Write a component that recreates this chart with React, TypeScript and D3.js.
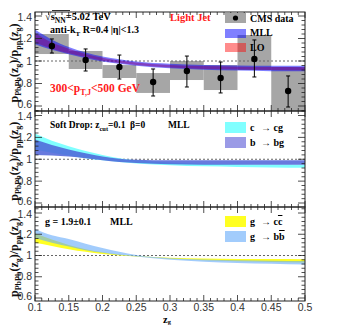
import React from 'react';
import * as d3 from 'd3';

// CMS data (light jets, 300 < pT < 500 GeV)
const binEdges = [0.1, 0.15, 0.2, 0.25, 0.3, 0.35, 0.4, 0.45, 0.5];
const dataZ = [0.125, 0.175, 0.225, 0.275, 0.325, 0.375, 0.425, 0.475];
const dataVal = [1.133, 1.009, 0.947, 0.813, 0.911, 0.849, 1.018, 0.733];
const statHi = [1.196, 1.107, 1.053, 0.929, 1.044, 0.991, 1.187, 0.867];
const statLo = [1.071, 0.911, 0.84, 0.689, 0.769, 0.716, 0.858, 0.591];
const sysHi = [1.24, 1.089, 0.964, 0.893, 1.0, 0.964, 1.231, 0.947];
const sysLo = [1.062, 0.929, 0.849, 0.716, 0.831, 0.742, 0.92, 0.5];

// theory band grid
const zBand = [0.1, 0.125, 0.15, 0.175, 0.2, 0.225, 0.25, 0.3, 0.35, 0.4, 0.45, 0.5];
const mllHi = [1.28, 1.19, 1.125, 1.075, 1.04, 1.015, 0.995, 0.975, 0.965, 0.96, 0.958, 0.957];
const mllLo = [1.15, 1.1, 1.06, 1.025, 0.995, 0.975, 0.958, 0.935, 0.922, 0.915, 0.91, 0.908];
const loHi = [1.25, 1.165, 1.11, 1.062, 1.03, 1.005, 0.987, 0.965, 0.955, 0.95, 0.947, 0.945];
const loLo = [1.165, 1.11, 1.07, 1.035, 1.003, 0.983, 0.965, 0.942, 0.93, 0.925, 0.92, 0.918];

const ccgHi = [1.235, 1.17, 1.12, 1.075, 1.04, 1.01, 0.99, 0.97, 0.96, 0.955, 0.952, 0.95];
const ccgLo = [1.09, 1.06, 1.035, 1.01, 0.99, 0.975, 0.962, 0.945, 0.935, 0.93, 0.925, 0.922];
const bbgHi = [1.18, 1.13, 1.09, 1.055, 1.025, 1.005, 0.995, 0.99, 0.99, 0.99, 0.99, 0.99];
const bbgLo = [1.04, 1.035, 1.025, 1.01, 0.99, 0.975, 0.965, 0.955, 0.95, 0.95, 0.95, 0.95];

const gccHi = [1.21, 1.15, 1.1, 1.06, 1.03, 1.01, 0.995, 0.98, 0.972, 0.968, 0.966, 0.965];
const gccLo = [1.12, 1.09, 1.06, 1.035, 1.015, 1.0, 0.99, 0.97, 0.955, 0.945, 0.94, 0.935];
const gbbHi = [1.25, 1.19, 1.155, 1.11, 1.07, 1.035, 1.005, 0.975, 0.962, 0.955, 0.95, 0.948];
const gbbLo = [1.165, 1.12, 1.085, 1.05, 1.025, 1.005, 0.99, 0.96, 0.942, 0.93, 0.922, 0.915];

const xTickLabels = ['0.1', '0.15', '0.2', '0.25', '0.3', '0.35', '0.4', '0.45', '0.5'];
const yTickLabels = ['0.6', '0.8', '1', '1.2', '1.4'];

const SERIF = '"Liberation Serif", "Times New Roman", serif';
const SANS = '"Liberation Sans", Arial, sans-serif';

const x = d3.scaleLinear().domain([0.1, 0.5]).range([35, 305]);

const panels = [
  { top: 12, bottom: 111, y: d3.scaleLinear().domain([0.6, 1.4]).range([106, 16]) },
  { top: 111, bottom: 207, y: d3.scaleLinear().domain([0.6, 1.4]).range([203, 115.5]) },
  { top: 207, bottom: 301, y: d3.scaleLinear().domain([0.6, 1.4]).range([298, 213]) },
];

function band(y: d3.ScaleLinear<number, number>, hi: number[], lo: number[]) {
  const a = d3.area<number>()
    .x((d, i) => x(zBand[i]))
    .y0((d, i) => y(lo[i]))
    .y1((d) => y(d))
    .curve(d3.curveMonotoneX);
  return a(hi) || '';
}

function Frame({ p, showLabels }: any) {
  const { top, bottom, y } = p;
  const xMinor = d3.range(0.1, 0.5001, 0.01);
  const xMajor = d3.range(0.1, 0.5001, 0.05);
  const [lo, hi] = [y.invert(bottom), y.invert(top)];
  const yMinor = d3.range(0.4, 1.6, 0.04).filter((v) => v >= lo && v <= hi);
  const yMajor = [0.6, 0.8, 1.0, 1.2, 1.4];
  return (
    <g>
      <rect x={35} y={top} width={270} height={bottom - top} fill="none" stroke="#222" strokeWidth={1} />
      {xMinor.map((v, i) => {
        const major = xMajor.some((m) => Math.abs(m - v) < 1e-6);
        const len = major ? 6 : 3;
        return (
          <g key={'xt' + i} stroke="#222" strokeWidth={0.8}>
            <line x1={x(v)} x2={x(v)} y1={bottom} y2={bottom - len} />
            <line x1={x(v)} x2={x(v)} y1={top} y2={top + len} />
          </g>
        );
      })}
      {yMinor.map((v, i) => {
        const major = yMajor.some((m) => Math.abs(m - v) < 1e-6);
        const len = major ? 7 : 3.5;
        return (
          <g key={'yt' + i} stroke="#222" strokeWidth={0.8}>
            <line x1={35} x2={35 + len} y1={y(v)} y2={y(v)} />
            <line x1={305} x2={305 - len} y1={y(v)} y2={y(v)} />
          </g>
        );
      })}
      {yMajor.map((v, i) => {
        // nudge the edge labels a little apart where panels meet
        const off = i === 0 ? 2.4 : i === yMajor.length - 1 ? 4.8 : 3.6;
        return (
          <text key={'yl' + i} x={32} y={y(v) + off} textAnchor="end" fontFamily={SANS} fontSize={10.5} fill="#333">
            {yTickLabels[i]}
          </text>
        );
      })}
      {showLabels && xMajor.map((v, i) => (
        <text key={'xl' + i} x={x(v)} y={311} textAnchor="middle" fontFamily={SANS} fontSize={10.5} fill="#333">
          {xTickLabels[i]}
        </text>
      ))}
      <text transform={`translate(18,${y(1) + 2}) rotate(-90)`} textAnchor="middle" fontFamily={SERIF} fontWeight="bold" fontSize={12} fill="#111">
        p<tspan dy={3} fontSize={8}>PbPb</tspan>
        <tspan dy={-3}>(z</tspan><tspan dy={3} fontSize={8}>g</tspan>
        <tspan dy={-3}>)/p</tspan><tspan dy={3} fontSize={8}>pp</tspan>
        <tspan dy={-3}>(z</tspan><tspan dy={3} fontSize={8}>g</tspan>
        <tspan dy={-3}>)</tspan>
      </text>
    </g>
  );
}

function Unity({ p }: any) {
  return <line x1={35} x2={305} y1={p.y(1)} y2={p.y(1)} stroke="#666" strokeWidth={1} strokeDasharray="2,2" />;
}

export default function App() {
  const [p1, p2, p3] = panels;
  const t = { fontFamily: SERIF, fontWeight: 'bold' as const };
  return (
    <svg width={339} height={326} style={{ position: 'absolute', left: 0, top: 0, background: '#fff' }}>
      <defs>
        {panels.map((p, i) => (
          <clipPath id={'clip' + i} key={i}>
            <rect x={35} y={p.top} width={270} height={p.bottom - p.top} />
          </clipPath>
        ))}
      </defs>

      {/* panel 1 */}
      <g clipPath="url(#clip0)">
        {dataZ.map((z, i) => (
          <rect key={i} x={x(binEdges[i])} width={x(binEdges[i + 1]) - x(binEdges[i])}
            y={p1.y(sysHi[i])} height={p1.y(sysLo[i]) - p1.y(sysHi[i])} fill="#a6a6a6" />
        ))}
        <Unity p={p1} />
        <path d={band(p1.y, loHi, loLo)} fill="rgb(255,0,0)" fillOpacity={0.5} />
        <path d={band(p1.y, mllHi, mllLo)} fill="rgb(0,0,255)" fillOpacity={0.5} />
        {dataZ.map((z, i) => (
          <g key={'pt' + i} stroke="#000" strokeWidth={1}>
            <line x1={x(z)} x2={x(z)} y1={p1.y(statHi[i])} y2={p1.y(statLo[i])} />
            <line x1={x(z) - 2} x2={x(z) + 2} y1={p1.y(statHi[i])} y2={p1.y(statHi[i])} />
            <line x1={x(z) - 2} x2={x(z) + 2} y1={p1.y(statLo[i])} y2={p1.y(statLo[i])} />
            <circle cx={x(z)} cy={p1.y(dataVal[i])} r={3.2} fill="#000" stroke="none" />
          </g>
        ))}
      </g>
      <Frame p={p1} showLabels={false} />
      <text x={45} y={20} {...t} fontSize={10.5}>
        √<tspan>s</tspan><tspan dy={2.5} fontSize={7.5}>NN</tspan><tspan dy={-2.5}>=5.02 TeV</tspan>
      </text>
      <line x1={52} x2={70} y1={10.5} y2={10.5} stroke="#000" strokeWidth={0.8} />
      <text x={50} y={33} {...t} fontSize={10}>
        anti-k<tspan dy={2.5} fontSize={7}>T</tspan><tspan dy={-2.5}> R=0.4 |η|&lt;1.3</tspan>
      </text>
      <text x={50} y={92} {...t} fontSize={11.5} fill="#ff1a1a">
        300&lt;p<tspan dy={3} fontSize={8}>T,J</tspan><tspan dy={-3}>&lt;500 GeV</tspan>
      </text>
      <text x={170} y={21} {...t} fontSize={10.5} fill="#ff1a1a">Light Jet</text>
      <rect x={225} y={13} width={21} height={10} fill="#a6a6a6" />
      <circle cx={235.5} cy={18} r={2.6} fill="#000" />
      <text x={250} y={21.5} {...t} fontSize={10}>CMS data</text>
      <rect x={225} y={29} width={21} height={9} fill="rgb(0,0,255)" fillOpacity={0.5} />
      <text x={250} y={36} {...t} fontSize={10}>MLL</text>
      <rect x={225} y={43} width={21} height={9} fill="rgb(255,0,0)" fillOpacity={0.45} />
      <text x={250} y={51} {...t} fontSize={10}>LO</text>

      {/* panel 2 */}
      <g clipPath="url(#clip1)">
        <Unity p={p2} />
        <path d={band(p2.y, ccgHi, ccgLo)} fill="#80ffff" />
        <path d={band(p2.y, bbgHi, bbgLo)} fill="#4d63d8" fillOpacity={0.85} />
      </g>
      <Frame p={p2} showLabels={false} />
      <text x={50} y={128} {...t} fontSize={9.5}>
        Soft Drop: z<tspan dy={2.5} fontSize={6.5}>cut</tspan><tspan dy={-2.5}>=0.1</tspan>
      </text>
      <text x={130} y={128} {...t} fontSize={9.5}>β=0</text>
      <text x={168} y={128} {...t} fontSize={9.5}>MLL</text>
      <rect x={225} y={122} width={21} height={11} fill="#80ffff" />
      <text x={250} y={131} {...t} fontSize={10}>c</text>
      <text x={261} y={131} {...t} fontSize={10}>→ cg</text>
      <rect x={225} y={137} width={21} height={11} fill="#9a9ae6" />
      <text x={250} y={146} {...t} fontSize={10}>b</text>
      <text x={261} y={146} {...t} fontSize={10}>→ bg</text>

      {/* panel 3 */}
      <g clipPath="url(#clip2)">
        <Unity p={p3} />
        <path d={band(p3.y, gccHi, gccLo)} fill="#ffff22" />
        <path d={band(p3.y, gbbHi, gbbLo)} fill="rgb(100,170,250)" fillOpacity={0.6} />
      </g>
      <Frame p={p3} showLabels={true} />
      <text x={45} y={225} {...t} fontSize={10}>g = 1.9±0.1</text>
      <text x={110} y={225} {...t} fontSize={10}>MLL</text>
      <rect x={225} y={216} width={21} height={11} fill="#ffff22" />
      <text x={250} y={225} {...t} fontSize={10}>g</text>
      <text x={261} y={225} {...t} fontSize={10}>→ c<tspan textDecoration="overline">c</tspan></text>
      <rect x={225} y={231} width={21} height={11} fill="rgb(100,170,250)" fillOpacity={0.6} />
      <text x={250} y={240} {...t} fontSize={10}>g</text>
      <text x={261} y={240} {...t} fontSize={10}>→ b<tspan textDecoration="overline">b</tspan></text>

      <text x={163} y={323} {...t} fontSize={10.5}>
        z<tspan dy={1} fontSize={6.5}>g</tspan>
      </text>
    </svg>
  );
}
